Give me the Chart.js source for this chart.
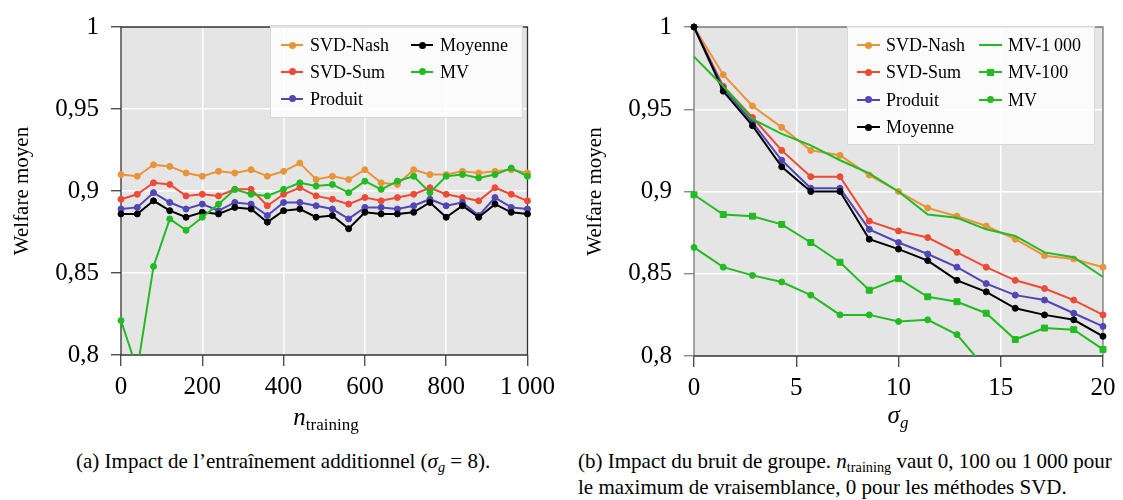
<!DOCTYPE html>
<html><head><meta charset="utf-8">
<script src="https://cdn.jsdelivr.net/npm/chart.js@4.4.0/dist/chart.umd.min.js"></script>
<style>
body{margin:0;font-family:'Liberation Serif',serif;color:#000;background:#fff;}
#wrap{position:relative;width:1123px;height:500px;overflow:hidden;font-family:'Liberation Serif',serif;}
canvas{position:absolute;}
.legend{position:absolute;background:rgba(255,255,255,0.82);border:1px solid #d8d8d8;box-sizing:border-box;font-family:'Liberation Serif',serif;}
.item{position:absolute;height:20px;font-size:18px;line-height:20px;white-space:nowrap;font-family:'Liberation Serif',serif;}
.sample{position:absolute;height:2px;}
.mk{position:absolute;}
.atitle{position:absolute;font-size:25px;line-height:25px;text-align:center;white-space:nowrap;font-family:'Liberation Serif',serif;}
.cap{position:absolute;font-size:21px;line-height:21px;white-space:nowrap;font-family:'Liberation Serif',serif;}
.sub{font-size:0.68em;position:relative;top:0.28em;}
</style></head>
<body>
<div id="wrap">
<canvas id="cA" width="561" height="445" style="left:0;top:0"></canvas>
<canvas id="cB" width="550" height="446" style="left:573px;top:0"></canvas>
<div id="legA" class="legend" style="left:270px;top:25px;width:253px;height:93px"></div>
<div id="legB" class="legend" style="left:847px;top:26px;width:248px;height:119px"></div>
<div class="atitle" style="left:226px;top:404px;width:200px"><i>n</i><span class="sub">training</span></div>
<div class="atitle" style="left:798px;top:402px;width:200px"><i>σ</i><span class="sub"><i>g</i></span></div>
<div class="cap" style="left:76px;top:451px">(a) Impact de l’entraînement additionnel (<i>σ</i><span class="sub"><i>g</i></span> = 8).</div>
<div class="cap" style="left:578px;top:451px">(b) Impact du bruit de groupe. <i>n</i><span class="sub">training</span> vaut 0, 100 ou 1&#8201;000 pour</div>
<div class="cap" style="left:578px;top:477px">le maximum de vraisemblance, 0 pour les méthodes SVD.</div>
</div>
<script>
// ---------- data : chart (a) ----------
const nTraining = [0,40,80,120,160,200,240,280,320,360,400,440,480,520,560,600,640,680,720,760,800,840,880,920,960,1000];
const svdNashA = [0.910,0.909,0.916,0.915,0.911,0.909,0.912,0.911,0.913,0.909,0.912,0.917,0.907,0.909,0.907,0.913,0.905,0.904,0.913,0.910,0.910,0.912,0.911,0.912,0.913,0.911];
const svdSumA  = [0.895,0.898,0.905,0.904,0.897,0.898,0.897,0.901,0.901,0.891,0.898,0.902,0.897,0.895,0.892,0.896,0.894,0.896,0.898,0.902,0.898,0.896,0.894,0.902,0.898,0.894];
const produitA = [0.889,0.890,0.899,0.893,0.889,0.892,0.888,0.893,0.892,0.885,0.893,0.893,0.891,0.889,0.883,0.890,0.890,0.889,0.891,0.895,0.891,0.893,0.885,0.896,0.890,0.889];
const moyenneA = [0.886,0.886,0.894,0.888,0.884,0.887,0.886,0.890,0.889,0.881,0.888,0.889,0.884,0.885,0.877,0.887,0.886,0.886,0.887,0.893,0.884,0.891,0.884,0.892,0.887,0.886];
const mvA      = [0.821,0.791,0.854,0.883,0.876,0.884,0.892,0.901,0.898,0.897,0.901,0.905,0.903,0.904,0.899,0.906,0.901,0.906,0.909,0.899,0.909,0.910,0.908,0.910,0.914,0.909];
const xTicksA = [0,200,400,600,800,1000];
const xTickLabelsA = ['0','200','400','600','800','1\u2009000'];

// ---------- data : chart (b) ----------
const sigmaG   = [0,1.43,2.86,4.29,5.71,7.14,8.57,10,11.43,12.86,14.29,15.71,17.14,18.57,20];
const svdNashB = [1.000,0.971,0.952,0.939,0.925,0.922,0.910,0.900,0.890,0.885,0.879,0.871,0.861,0.859,0.854];
const svdSumB  = [1.000,0.964,0.945,0.925,0.909,0.909,0.882,0.876,0.872,0.863,0.854,0.846,0.841,0.834,0.825];
const produitB = [1.000,0.963,0.942,0.919,0.902,0.902,0.877,0.869,0.862,0.854,0.844,0.837,0.834,0.826,0.818];
const moyenneB = [1.000,0.961,0.940,0.915,0.900,0.900,0.871,0.865,0.858,0.846,0.839,0.829,0.825,0.822,0.812];
const mv1000B  = [0.982,0.964,0.944,0.935,0.928,0.919,0.911,0.900,0.886,0.884,0.877,0.873,0.863,0.860,0.848];
const mv100B   = [0.898,0.886,0.885,0.880,0.869,0.857,0.840,0.847,0.836,0.833,0.826,0.810,0.817,0.816,0.804];
const mvB      = [0.866,0.854,0.849,0.845,0.837,0.825,0.825,0.821,0.822,0.813,0.792,null,null,null,null];
const xTicksB = [0,5,10,15,20];
const xTickLabelsB = ['0','5','10','15','20'];

const yTicks = [0.8,0.85,0.9,0.95,1];
const yTickLabels = ['0,8','0,85','0,9','0,95','1'];

// ---------- styles ----------
const C = {nash:'#e8953a', sum:'#ee4b37', prod:'#5046b4', moy:'#000000', mv:'#22bb22'};
const FONT = "'Liberation Serif'";

function pts(xs, ys){ return xs.map((x,i)=>({x:x, y:ys[i]})); }
function ds(label, xs, ys, color, order, style){
  return Object.assign({label, data:pts(xs,ys), borderColor:color, backgroundColor:color,
    borderWidth:2, pointRadius:3, pointBorderWidth:1, pointHoverRadius:3, tension:0, order,
    pointStyle:'circle', spanGaps:false, clip:{left:10,top:10,right:10,bottom:0}}, style||{});
}

const framePlugin = {
  id:'frame',
  beforeDraw(chart, args, o){
    const {ctx, chartArea:a} = chart;
    ctx.save(); ctx.fillStyle = '#e5e5e5';
    ctx.fillRect(a.left, a.top, a.right-a.left, a.bottom-a.top); ctx.restore();
  },
  beforeDatasetsDraw(chart, args, o){
    const {ctx, chartArea:a} = chart;
    ctx.save(); ctx.lineWidth = 1.3;
    ctx.strokeStyle = o.side; ctx.beginPath();
    ctx.moveTo(a.left,a.bottom); ctx.lineTo(a.left,a.top); ctx.lineTo(a.right,a.top); ctx.lineTo(a.right,a.bottom); ctx.stroke();
    ctx.strokeStyle = o.bottom; ctx.beginPath(); ctx.moveTo(a.left,a.bottom); ctx.lineTo(a.right,a.bottom); ctx.stroke();
    ctx.restore();
  }
};

function makeChart(id, datasets, xMin, xMax, xTicks, xLabels, padding, frame){
  const gridColor = (lo, hi) => (c) => (c.tick && (Math.abs(c.tick.value-lo)<1e-9 || Math.abs(c.tick.value-hi)<1e-9)) ? 'rgba(0,0,0,0)' : '#ffffff';
  return new Chart(document.getElementById(id), {
    type:'line',
    data:{datasets},
    plugins:[framePlugin],
    options:{
      responsive:false, animation:false, events:[],
      layout:{padding},
      plugins:{legend:{display:false}, tooltip:{enabled:false}, frame},
      scales:{
        x:{type:'linear', min:xMin, max:xMax,
          afterBuildTicks:(s)=>{ s.ticks = xTicks.map(v=>({value:v})); },
          afterFit:(s)=>{ s.height = 90; },
          ticks:{autoSkip:false, maxRotation:0, color:'#000', padding:6, font:{family:FONT, size:25},
            callback:(v,i)=>xLabels[i]},
          grid:{color:gridColor(xMin,xMax), lineWidth:1.5, tickColor:frame.bottom, tickLength:11, tickWidth:1.2},
          border:{display:false}},
        y:{type:'linear', min:0.8, max:1,
          afterBuildTicks:(s)=>{ s.ticks = yTicks.map(v=>({value:v})); },
          afterFit:(s)=>{ s.width = 121; },
          ticks:{autoSkip:false, color:'#000', padding:12, font:{family:FONT, size:25},
            callback:(v,i)=>yTickLabels[i]},
          grid:{color:gridColor(0.8,1), lineWidth:1.5, tickColor:frame.side, tickLength:10, tickWidth:1.2},
          border:{display:false},
          title:{display:true, text:'Welfare moyen', color:'#000', font:{family:FONT, size:21}, padding:{top:10,bottom:0}}}
      }
    }
  });
}

function buildLegend(boxId, chart, layout){
  const box = document.getElementById(boxId);
  const bl = parseFloat(box.style.left), bt = parseFloat(box.style.top);
  chart.data.datasets.forEach((d, i) => {
    const L = layout.pos[i];
    const item = document.createElement('div');
    item.className = 'item';
    item.style.left = (layout.colX[L[0]] - bl) + 'px';
    item.style.top = (layout.rowY[L[1]] - bt - 10) + 'px';
    const line = document.createElement('div');
    line.className = 'sample';
    line.style.left = '0px'; line.style.top = '9px'; line.style.width = layout.sw + 'px';
    line.style.background = d.borderColor;
    item.appendChild(line);
    if (d.pointRadius > 0){
      const mk = document.createElement('div');
      mk.className = 'mk';
      const sq = d.pointStyle === 'rect';
      const s = 7;
      mk.style.width = s+'px'; mk.style.height = s+'px';
      mk.style.left = (layout.sw/2 - s/2) + 'px'; mk.style.top = (10 - s/2) + 'px';
      mk.style.background = d.backgroundColor;
      mk.style.borderRadius = sq ? '0' : '50%';
      item.appendChild(mk);
    }
    const t = document.createElement('span');
    t.textContent = d.label;
    t.style.position = 'absolute'; t.style.left = layout.tx + 'px'; t.style.top = '0px';
    item.appendChild(t);
    box.appendChild(item);
  });
}

function init(){
  Chart.defaults.font.family = FONT;
  const chartA = makeChart('cA', [
    ds('SVD-Nash', nTraining, svdNashA, C.nash, 5),
    ds('SVD-Sum',  nTraining, svdSumA,  C.sum, 4),
    ds('Produit',  nTraining, produitA, C.prod, 3),
    ds('Moyenne',  nTraining, moyenneA, C.moy, 2),
    ds('MV',       nTraining, mvA,      C.mv, 1)
  ], 0, 1000, xTicksA, xTickLabelsA, {top:18, right:30, left:0, bottom:0}, {side:'#333', bottom:'#333'});

  const chartB = makeChart('cB', [
    ds('SVD-Nash', sigmaG, svdNashB, C.nash, 7),
    ds('SVD-Sum',  sigmaG, svdSumB,  C.sum, 6),
    ds('Produit',  sigmaG, produitB, C.prod, 5),
    ds('Moyenne',  sigmaG, moyenneB, C.moy, 4),
    ds('MV-1\u2009000', sigmaG, mv1000B, C.mv, 3, {pointRadius:0, pointHoverRadius:0}),
    ds('MV-100',   sigmaG, mv100B,   C.mv, 2, {pointStyle:'rect', pointRadius:4.2}),
    ds('MV',       sigmaG, mvB,      C.mv, 1)
  ], 0, 20, xTicksB, xTickLabelsB, {top:19, right:20, left:0, bottom:0}, {side:'#777', bottom:'#333'});

  buildLegend('legA', chartA, {colX:[280,410], rowY:[44,70.5,97.5], sw:22, tx:29,
    pos:[[0,0],[0,1],[0,2],[1,0],[1,1]]});
  buildLegend('legB', chartB, {colX:[856,978], rowY:[44,71,98.5,126], sw:23, tx:29,
    pos:[[0,0],[0,1],[0,2],[0,3],[1,0],[1,1],[1,2]]});
}

let started = false;
function go(){ if (!started){ started = true; init(); } }
if (document.fonts && document.fonts.load){
  Promise.all([
    document.fonts.load("25px 'Liberation Serif'"),
    document.fonts.load("italic 25px 'Liberation Serif'")
  ]).then(go, go);
  setTimeout(go, 400);
} else { go(); }
</script>
</body></html>
